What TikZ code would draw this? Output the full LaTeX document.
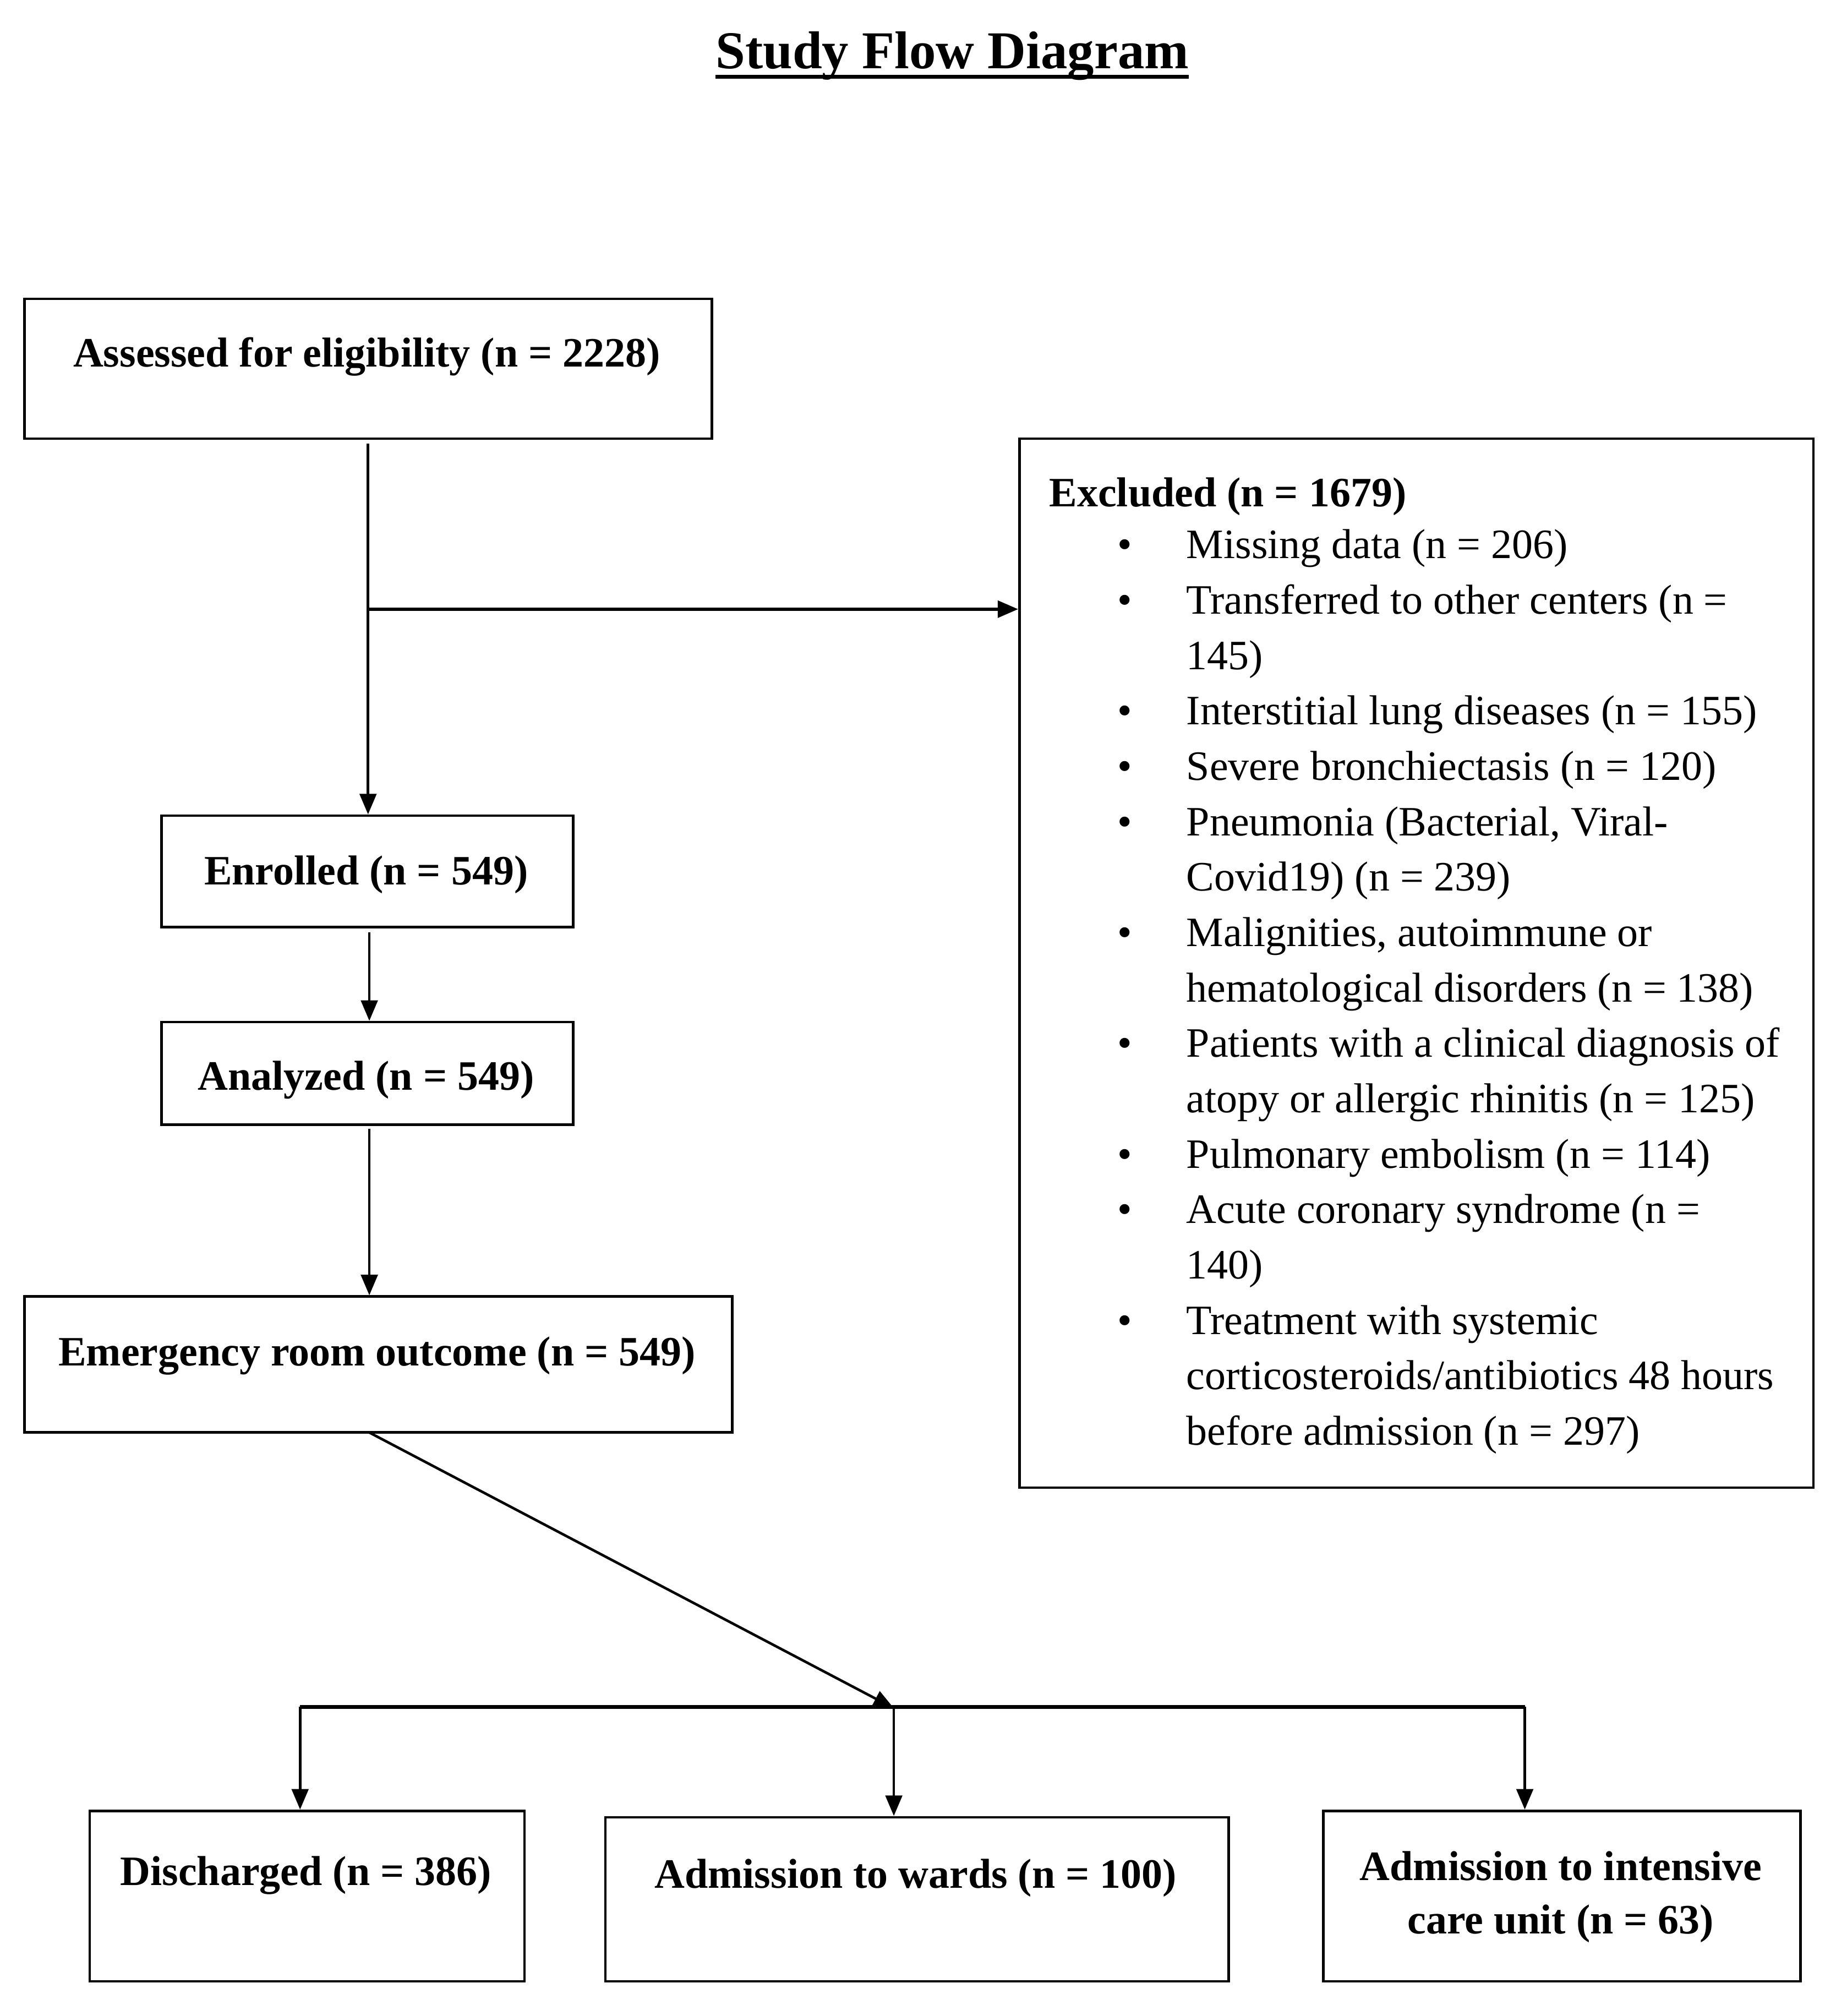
\documentclass[tikz,border=0pt]{standalone}
\usepackage{fontspec}
\setmainfont{Liberation Serif}
\usetikzlibrary{arrows.meta}
\begin{document}
\begin{tikzpicture}[x=1pt,y=-1pt,
  box/.style={draw, line width=2pt, inner sep=0pt, anchor=north west},
  lbl/.style={font=\fontsize{32.6}{40}\selectfont\bfseries, inner sep=0pt, anchor=base},
  item/.style={font=\fontsize{32.6}{40}\selectfont, inner sep=0pt, anchor=base west},
  bul/.style={font=\fontsize{32.6}{40}\selectfont, inner sep=0pt, anchor=base},
  conn/.style={line width=2pt},
  arr/.style={conn, -{Triangle[length=16pt,width=13pt]}}]
\path[use as bounding box] (0,0) rectangle (1440,1572);

% title
\node[font=\fontsize{41.5}{48}\selectfont\bfseries, inner sep=0pt, anchor=base] (title) at (742.5,53.5) {Study Flow Diagram};
\draw[line width=3pt] ([yshift=-6.5pt]title.base west) -- ([yshift=-6.5pt]title.base east);

% boxes
\node[box, minimum width=536pt, minimum height=109pt] (assessed) at (18,232) {};
\node[box, minimum width=619pt, minimum height=818pt] (excl) at (794,341) {};
\node[box, minimum width=321pt, minimum height=87pt] (enrolled) at (125,635) {};
\node[box, minimum width=321pt, minimum height=80pt] (analyzed) at (125,796) {};
\node[box, minimum width=552pt, minimum height=106pt] (er) at (18,1010) {};
\node[box, minimum width=339pt, minimum height=133pt] (dis) at (69,1411) {};
\node[box, minimum width=486pt, minimum height=128pt] (wards) at (471,1416) {};
\node[box, minimum width=372pt, minimum height=133pt] (icu) at (1031,1411) {};

% box texts
\node[lbl] (tassessed) at (286,286) {Assessed for eligibility (n = 2228)};
\node[lbl] (tenrolled) at (285.5,690) {Enrolled (n = 549)};
\node[lbl] (tanalyzed) at (285.5,850) {Analyzed (n = 549)};
\node[lbl] (ter) at (294,1065) {Emergency room outcome (n = 549)};
\node[lbl] (tdis) at (238.5,1470) {Discharged (n = 386)};
\node[lbl] (twards) at (714,1472) {Admission to wards (n = 100)};
\node[lbl] (ticua) at (1217,1466) {Admission to intensive};
\node[lbl] (ticub) at (1217,1508) {care unit (n = 63)};

% excluded list
\node[item, font=\fontsize{32.6}{40}\selectfont\bfseries] (x0) at (818,395) {Excluded (n = 1679)};
\foreach \b/\t [count=\k] in {
  1/{Missing data (n = 206)},
  1/{Transferred to other centers (n =},
  0/{145)},
  1/{Interstitial lung diseases (n = 155)},
  1/{Severe bronchiectasis (n = 120)},
  1/{Pneumonia (Bacterial, Viral-},
  0/{Covid19) (n = 239)},
  1/{Malignities, autoimmune or},
  0/{hematological disorders (n = 138)},
  1/{Patients with a clinical diagnosis of},
  0/{atopy or allergic rhinitis (n = 125)},
  1/{Pulmonary embolism (n = 114)},
  1/{Acute coronary syndrome (n =},
  0/{140)},
  1/{Treatment with systemic},
  0/{corticosteroids/antibiotics 48 hours},
  0/{before admission (n = 297)}} {
  \node[item] (x\k) at (925,{435.5+43.2*(\k-1)}) {\t};
  \ifnum\b=1 \node[bul] (b\k) at (877,{435.5+43.2*(\k-1)}) {•};\fi
}

% connectors
\coordinate (a1) at (287,346);
\coordinate (br) at (287,475);
\draw[arr] (a1) -- (a1 |- enrolled.north);
\draw[arr, line width=2.6pt] (br) -- (br -| excl.west);
\coordinate (e1) at (288,727);
\draw[arr] (e1) -- (e1 |- analyzed.north);
\coordinate (n1) at (288,880);
\draw[arr] (n1) -- (n1 |- er.north);
\coordinate (r1) at (288,1117);
\coordinate (jn) at (697,1332);
\draw[arr] (r1) -- (jn);
\coordinate (dL) at (234,1331);
\coordinate (dR) at (1189,1331);
\draw[conn, line width=2.8pt] (dL) -- (dR);
\draw[arr] (dL) -- (dL |- dis.north);
\draw[arr] (jn) -- (jn |- wards.north);
\draw[arr] (dR) -- (dR |- icu.north);
\end{tikzpicture}
\end{document}
